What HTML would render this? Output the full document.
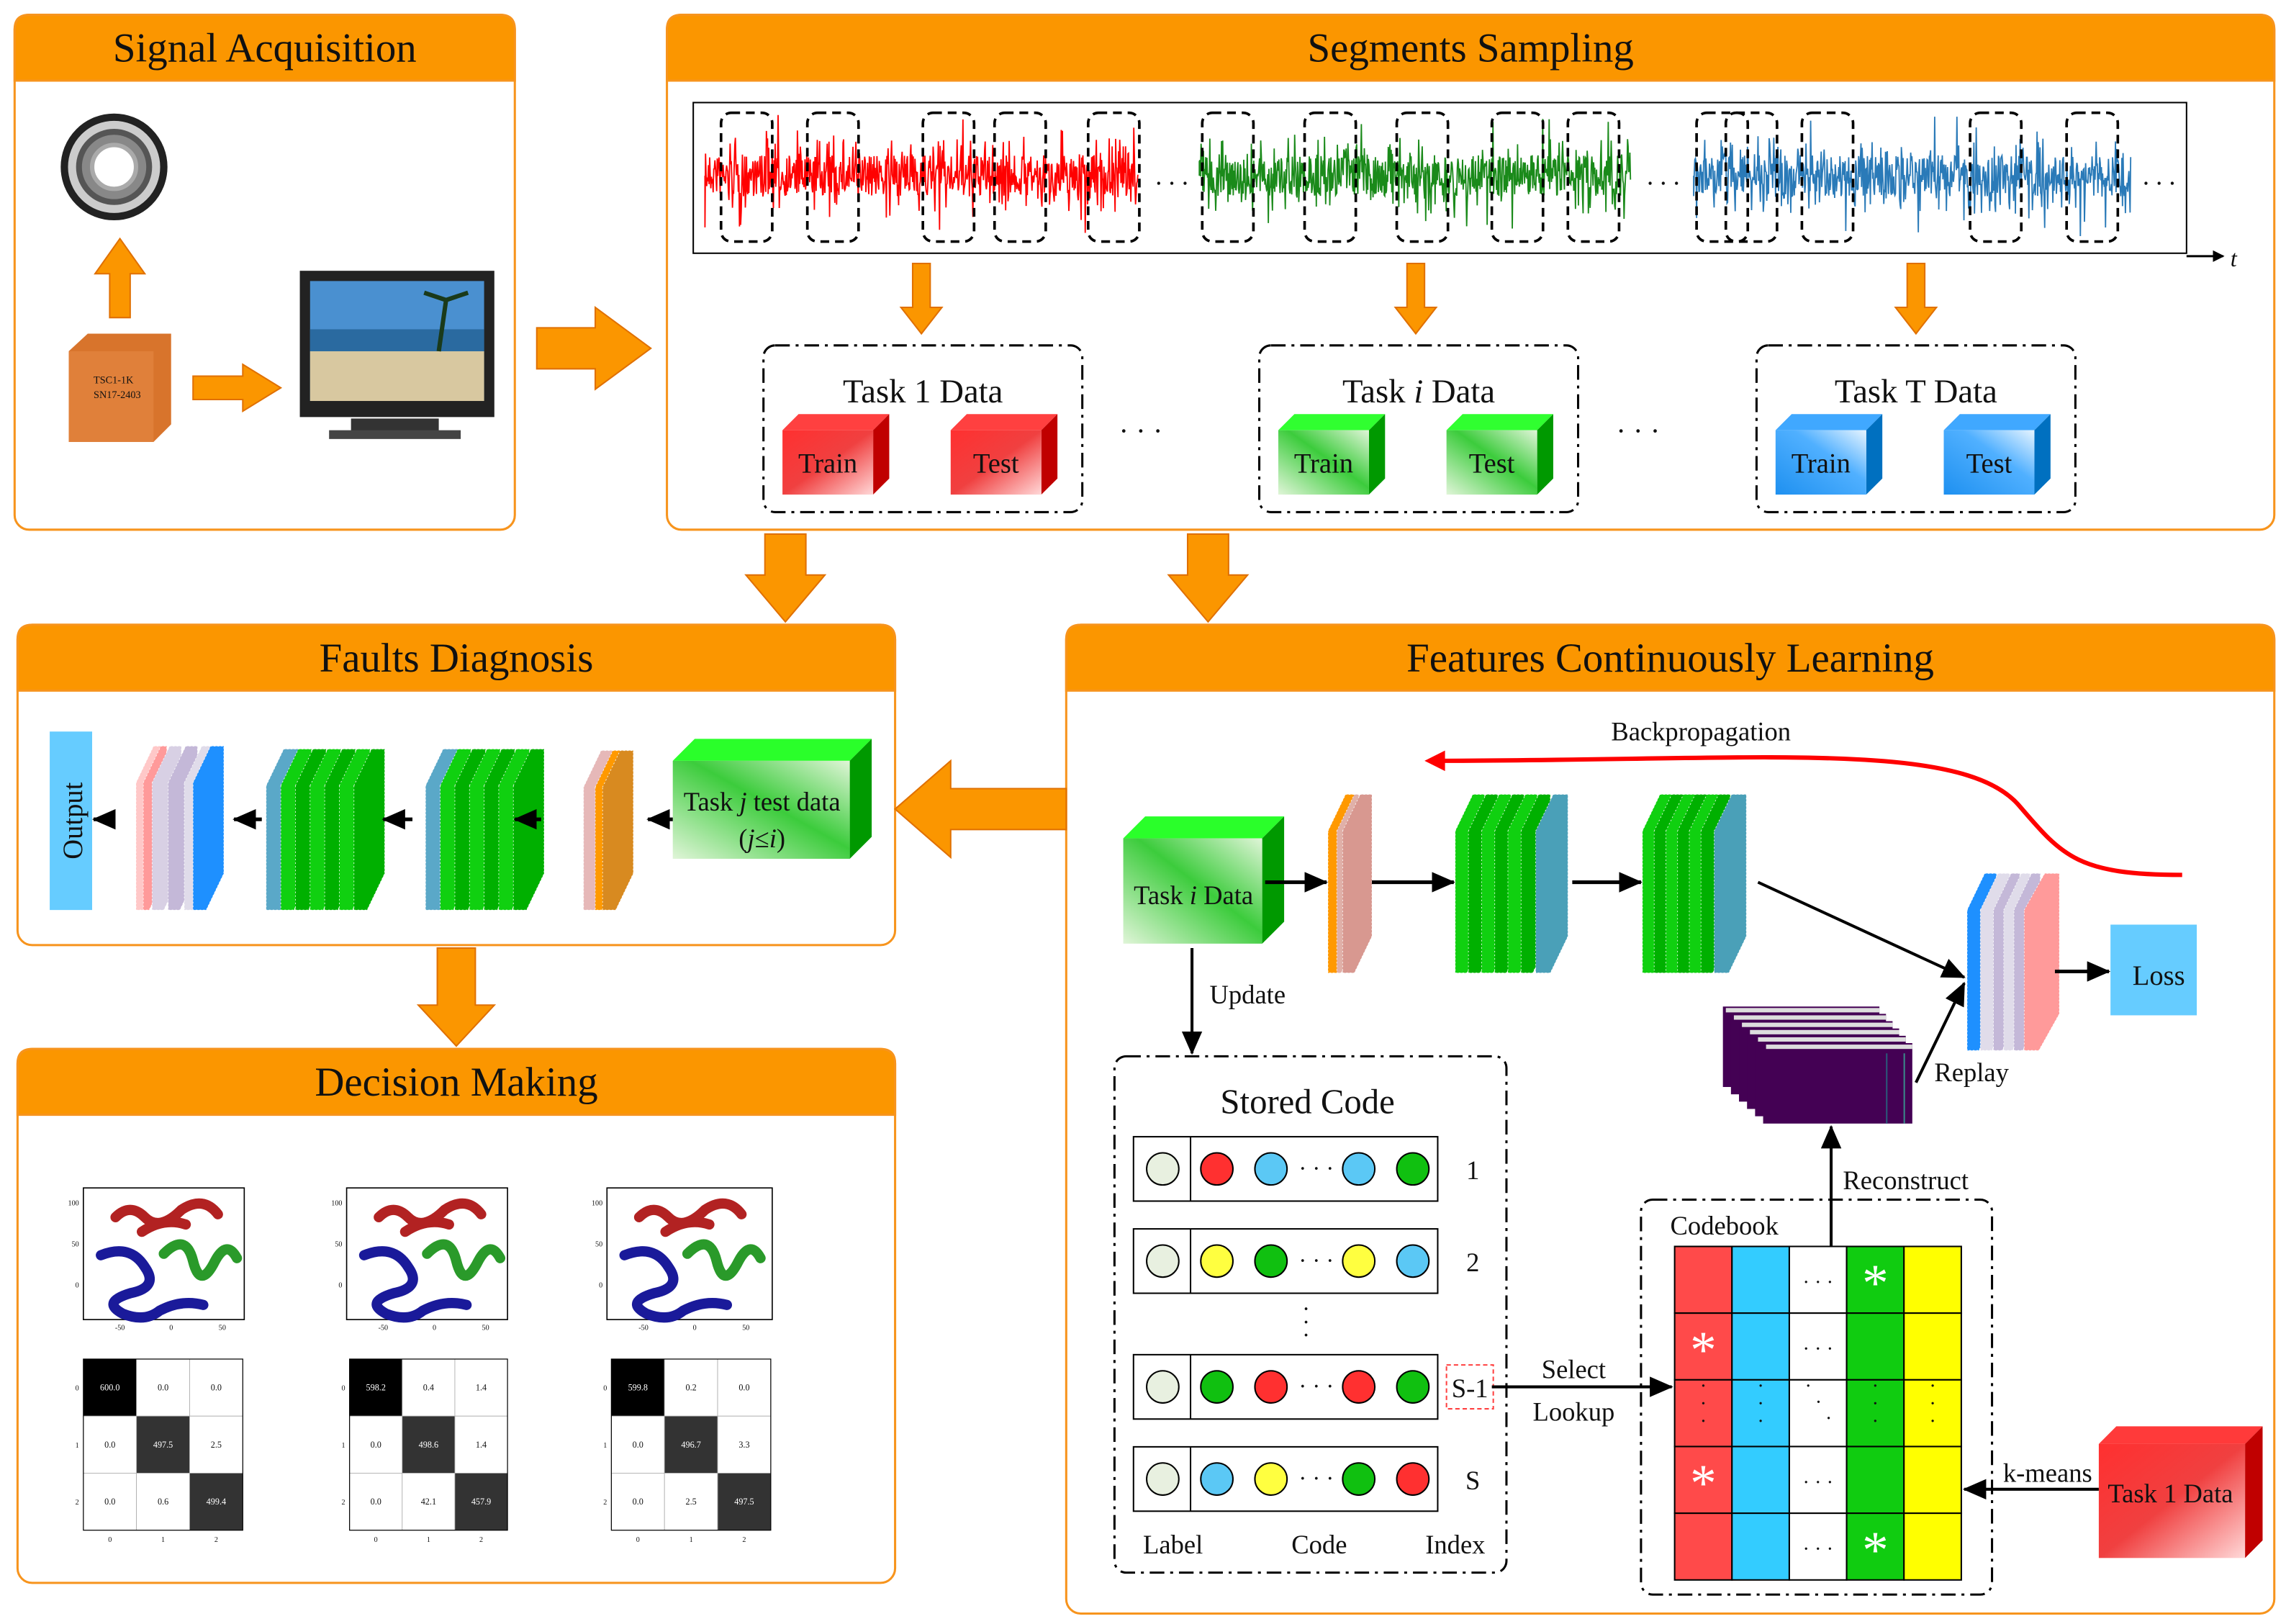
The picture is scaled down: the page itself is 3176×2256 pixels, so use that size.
<!DOCTYPE html>
<html><head><meta charset="utf-8"><style>
html,body{margin:0;padding:0;background:#fff}
svg{display:block}
text{font-family:"Liberation Serif",serif;fill:#111}
</style></head><body>
<svg id="s" width="3176" height="2256" viewBox="0 0 1563 1110" xmlns="http://www.w3.org/2000/svg">
<defs>
<linearGradient id="gr" x1="0" y1="0" x2="1" y2="1"><stop offset="0" stop-color="#ff3030"/><stop offset="0.5" stop-color="#f04040"/><stop offset="1" stop-color="#ffd8d8"/></linearGradient>
<linearGradient id="gg" x1="1" y1="0" x2="0" y2="1"><stop offset="0" stop-color="#e0f5d8"/><stop offset="0.45" stop-color="#3ccc3c"/><stop offset="1" stop-color="#e0f5d8"/></linearGradient>
<linearGradient id="gb" x1="0" y1="1" x2="1" y2="0"><stop offset="0" stop-color="#1e90f0"/><stop offset="0.6" stop-color="#50b0ff"/><stop offset="1" stop-color="#e6f4ff"/></linearGradient>
<marker id="ah" markerWidth="8" markerHeight="8" refX="7" refY="4" orient="auto" markerUnits="userSpaceOnUse"><path d="M0,0 L8,4 L0,8 Z" fill="#000"/></marker>
<marker id="ahb" markerWidth="16" markerHeight="14" refX="15" refY="7" orient="auto" markerUnits="userSpaceOnUse"><path d="M0,0 L16,7 L0,14 Z" fill="#000"/></marker>
</defs>
<g id="root"></g>
</svg>
<script>
const R=document.getElementById('root');let H='';
function a(s){H+=s;}
const OR='#f7941d',OF='#fb9600';
function panel(x,y,w,h,t){a(`<rect x="${x}" y="${y}" width="${w}" height="${h}" rx="10" fill="#fff" stroke="${OR}" stroke-width="1.5"/>`);
a(`<path d="M${x} ${y+45} V${y+10} Q${x} ${y} ${x+10} ${y} H${x+w-10} Q${x+w} ${y} ${x+w} ${y+10} V${y+45} Z" fill="${OF}" stroke="${OR}" stroke-width="1.5"/>`);
a(`<text x="${x+w/2}" y="${y+32}" font-size="28" text-anchor="middle">${t}</text>`);}
panel(10,10,342,352,'Signal Acquisition');
panel(456,10,1099,352,'Segments Sampling');
panel(12,427,600,219,'Faults Diagnosis');
panel(729,427,826,676,'Features Continuously Learning');
panel(12,717,600,365,'Decision Making');
function barR(x1,x2,cy,sh,hh,hl){a(`<polygon points="${x1},${cy-sh} ${x2-hl},${cy-sh} ${x2-hl},${cy-hh} ${x2},${cy} ${x2-hl},${cy+hh} ${x2-hl},${cy+sh} ${x1},${cy+sh}" fill="${OF}" stroke="#e07000" stroke-width="1"/>`);}
function barL(x1,x2,cy,sh,hh,hl){a(`<polygon points="${x2},${cy-sh} ${x1+hl},${cy-sh} ${x1+hl},${cy-hh} ${x1},${cy} ${x1+hl},${cy+hh} ${x1+hl},${cy+sh} ${x2},${cy+sh}" fill="${OF}" stroke="#e07000" stroke-width="1"/>`);}
function barD(cx,y1,y2,sw,hw,hl){a(`<polygon points="${cx-sw},${y1} ${cx+sw},${y1} ${cx+sw},${y2-hl} ${cx+hw},${y2-hl} ${cx},${y2} ${cx-hw},${y2-hl} ${cx-sw},${y2-hl}" fill="${OF}" stroke="#e07000" stroke-width="1"/>`);}
function barU(cx,y1,y2,sw,hw,hl){a(`<polygon points="${cx-sw},${y2} ${cx+sw},${y2} ${cx+sw},${y1+hl} ${cx+hw},${y1+hl} ${cx},${y1} ${cx-hw},${y1+hl} ${cx-sw},${y1+hl}" fill="${OF}" stroke="#e07000" stroke-width="1"/>`);}
barR(367,445,238,14,28,38);
barD(537,365,425,14,27,32);barD(826,365,425,14,27,32);
barL(612,729,553,14,33,38);
barD(312,648,715,13,26,28);
barU(82,163,217,7,17,24);
barR(132,192,265,8,16,26);
barD(630,180,228,6,14,18);barD(968,180,228,6,14,18);barD(1310,180,228,6,14,18);
a(`<circle cx="78" cy="114" r="34" fill="#ccc" stroke="#222" stroke-width="5"/><circle cx="78" cy="114" r="24" fill="#888" stroke="#555" stroke-width="4"/><circle cx="78" cy="114" r="15" fill="#fff" stroke="#aaa" stroke-width="3"/>`);
a(`<polygon points="47,240 60,228 117,228 117,290 105,302 47,302" fill="#d8742c"/><rect x="47" y="240" width="58" height="62" fill="#e0803a"/><text x="64" y="262" font-size="7" fill="#333">TSC1-1K</text><text x="64" y="272" font-size="7" fill="#333">SN17-2403</text>`);
a(`<rect x="205" y="185" width="133" height="100" fill="#222"/><rect x="212" y="192" width="119" height="82" fill="#4a90d0"/><rect x="212" y="240" width="119" height="34" fill="#d8c8a0"/><rect x="212" y="225" width="119" height="15" fill="#2a6aa0"/><path d="M300 240 L305 205 M305 205 L290 200 M305 205 L320 200" stroke="#1a3a1a" stroke-width="3" fill="none"/><rect x="240" y="286" width="60" height="10" fill="#333"/><rect x="225" y="294" width="90" height="6" fill="#444"/>`);
a(`<rect x="474" y="70" width="1021" height="103" fill="none" stroke="#000" stroke-width="1"/><line x1="1495" y1="175" x2="1520" y2="175" stroke="#000" stroke-width="1.5" marker-end="url(#ah)"/><text x="1525" y="182" font-size="16" font-style="italic">t</text>`);
let seed=7;function rnd(){seed=(seed*16807)%2147483647;return seed/2147483647;}
function wave(x1,x2,col){let d=`M${x1} 120`;for(let x=x1;x<=x2;x+=0.4){let r=rnd();let amp=(r<0.05?42:(r<0.3?26:14));d+=` L${x.toFixed(1)} ${(120+(rnd()*2-1)*amp).toFixed(1)}`;}a(`<path d="${d}" stroke="${col}" stroke-width="0.9" fill="none"/>`);}
wave(482,778,'#ff0000');wave(820,1115,'#1a8a1a');wave(1158,1457,'#2a7ab8');
a(`<text x="790" y="126" font-size="18">. . .</text><text x="1126" y="126" font-size="18">. . .</text><text x="1465" y="126" font-size="18">. . .</text>`);
[493,552,631,680,744,822,892,955,1020,1072,1160,1180,1232,1347,1413].forEach(x=>a(`<rect x="${x}" y="77" width="35" height="88" rx="7" fill="none" stroke="#000" stroke-width="1.8" stroke-dasharray="6,4"/>`));
function cube(x,y,w,h,d,fill,side,top,label,fs){a(`<polygon points="${x},${y+d} ${x+d},${y} ${x+w+d},${y} ${x+w},${y+d}" fill="${top}"/><polygon points="${x+w},${y+d} ${x+w+d},${y} ${x+w+d},${y+h} ${x+w},${y+h+d}" fill="${side}"/><rect x="${x}" y="${y+d}" width="${w}" height="${h}" fill="${fill}"/>`);if(label)a(`<text x="${x+w/2}" y="${y+d+h/2+7}" font-size="${fs||19}" text-anchor="middle">${label}</text>`);}
function tbox(x,t,f,s,tp){a(`<rect x="${x}" y="236" width="218" height="114" rx="8" fill="none" stroke="#000" stroke-width="1.5" stroke-dasharray="10,4,2,4"/><text x="${x+109}" y="275" font-size="23" text-anchor="middle">${t}</text>`);cube(x+13,283,62,44,11,f,s,tp,'Train',19);cube(x+128,283,62,44,11,f,s,tp,'Test',19);}
tbox(522,'Task 1 Data','url(#gr)','#c00000','#ff4040');
tbox(861,'Task <tspan font-style="italic">i</tspan> Data','url(#gg)','#009900','#30ff30');
tbox(1201,'Task T Data','url(#gb)','#0070c0','#40a8ff');
a(`<text x="765" y="301" font-size="20">·   ·   ·</text><text x="1105" y="301" font-size="20">·   ·   ·</text>`);
function sheet(x,t,b,c,w,k,s){w=w||7;k=k||11;s=s||25;a(`<polygon points="${x},${t+s} ${x+k},${t} ${x+k+w},${t} ${x+k+w},${b-s} ${x+w},${b} ${x},${b}" fill="${c}" stroke="#fff" stroke-width="0.4" stroke-dasharray="1,1.5"/>`);}
a(`<rect x="34" y="500" width="29" height="122" fill="#66ccff"/><text transform="translate(56,561) rotate(-90)" font-size="19" text-anchor="middle">Output</text>`);
sheet(93,510,622,'#ffc8c8',8,12);sheet(98,510,622,'#ff9a9a',4,12);sheet(104,510,622,'#d8d0e4',8,12);sheet(115,510,622,'#c4b8d8',8,12);sheet(126,510,622,'#e0dcea',6,12);sheet(132,510,622,'#1e90ff',9,12,25);
sheet(182,512,622,'#5aa8c8',10,12);for(let i=0;i<6;i++)sheet(192+i*10,512,622,i%2?'#00b000':'#10d010',9,12);
sheet(291,512,622,'#5aa8c8',10,12);for(let i=0;i<6;i++)sheet(301+i*10,512,622,i%2?'#00b000':'#10d010',9,12);
sheet(399,513,622,'#e6b8b8',8,12);sheet(407,513,622,'#ff9900',5,12);sheet(412,513,622,'#d88a20',9,12);
cube(460,505,121,67,15,'url(#gg)','#009900','#2aff2a','',0);
a(`<text x="521" y="554" font-size="18" text-anchor="middle">Task <tspan font-style="italic">j</tspan> test data</text><text x="521" y="579" font-size="18" text-anchor="middle">(<tspan font-style="italic">j</tspan>≤<tspan font-style="italic">i</tspan>)</text>`);
[[460,443],[370,352],[282,262],[179,160],[77,64]].forEach(([x1,x2])=>a(`<line x1="${x1}" y1="560" x2="${x2}" y2="560" stroke="#000" stroke-width="2.5" marker-end="url(#ahb)"/>`));
a(`<text x="1163" y="506" font-size="18" text-anchor="middle">Backpropagation</text><path d="M1492 598 C1420 598 1410 585 1380 550 C1340 505 1200 520 980 520" stroke="#ff0000" stroke-width="3" fill="none"/><polygon points="974,520 988,513 988,527" fill="#ff0000"/>`);
cube(768,558,95,72,15,'url(#gg)','#009900','#2aff2a','',0);
a(`<text x="816" y="618" font-size="18" text-anchor="middle">Task <tspan font-style="italic">i</tspan> Data</text>`);
sheet(908,543,665,'#ff9900',6,12);sheet(914,543,665,'#e0b0a8',3,12);sheet(918,543,665,'#d89890',8,12);
for(let i=0;i<6;i++)sheet(995+i*9,543,665,i%2?'#00b000':'#10d010',8,12);sheet(1050,543,665,'#4aa0b8',10,12);
for(let i=0;i<6;i++)sheet(1123+i*8,543,665,i%2?'#00b000':'#10d010',8,12);sheet(1172,543,665,'#4aa0b8',10,12);
sheet(1345,597,718,'#1e90ff',8,12);sheet(1354,597,718,'#e0dcea',8,12);sheet(1363,597,718,'#c4b8d8',6,12);sheet(1370,597,718,'#e0dcea',6,12);sheet(1377,597,718,'#c4b8d8',6,12);sheet(1384,597,718,'#ff9a9a',10,14);
a(`<rect x="1443" y="632" width="59" height="62" fill="#66ccff"/><text x="1476" y="673" font-size="19" text-anchor="middle">Loss</text>`);
function arr(x1,y1,x2,y2,w){a(`<line x1="${x1}" y1="${y1}" x2="${x2}" y2="${y2}" stroke="#000" stroke-width="${w||2}" marker-end="url(#ahb)"/>`);}
arr(865,603,907,603,2.5);arr(938,603,994,603,2.5);arr(1075,603,1122,603,2.5);arr(1202,603,1343,668,2);arr(1405,664,1442,664,2.5);arr(1310,740,1343,672,2);
arr(815,648,815,720,2);a(`<text x="853" y="686" font-size="18" text-anchor="middle">Update</text>`);
for(let i=0;i<6;i++){let x=1178+i*5.5,y=688+i*5;a(`<rect x="${x}" y="${y}" width="${107-i*1}" height="${55}" fill="#440154"/><rect x="${x+2}" y="${y+1}" width="${105-i}" height="3" fill="#ddd"/>`);}
a(`<line x1="1302" y1="720" x2="1302" y2="768" stroke="#3a8a8a" stroke-width="1"/><line x1="1290" y1="720" x2="1290" y2="768" stroke="#2a5a7a" stroke-width="1"/><text x="1348" y="739" font-size="18" text-anchor="middle">Replay</text>`);
a(`<rect x="762" y="722" width="268" height="353" rx="8" fill="none" stroke="#000" stroke-width="1.5" stroke-dasharray="10,4,2,4"/><text x="894" y="761" font-size="24" text-anchor="middle">Stored Code</text>`);
const C={l:'#e8f0e0',r:'#ff3030',c:'#5bc8f5',g:'#10c010',y:'#ffff40'};
[[777,'lrccg','1'],[840,'lygyc','2'],[926,'lgrrg','S-1'],[989,'lcygr','S']].forEach(([y,s,lab])=>{a(`<rect x="775" y="${y}" width="208" height="44" fill="#fff" stroke="#000" stroke-width="1"/><line x1="814" y1="${y}" x2="814" y2="${y+44}" stroke="#000"/>`);[795,832,869,929,966].forEach((cx,i)=>a(`<circle cx="${cx}" cy="${y+22}" r="11" fill="${C[s[i]]}" stroke="#000" stroke-width="1"/>`));a(`<text x="900" y="${y+27}" font-size="16" text-anchor="middle">· · ·</text>`);
if(lab==='S-1')a(`<rect x="989" y="${y+7}" width="32" height="30" fill="none" stroke="#ff4040" stroke-dasharray="3,2"/>`);a(`<text x="${lab==='S-1'?1005:1007}" y="${y+29}" font-size="18" text-anchor="middle">${lab}</text>`);});
a(`<text x="893" y="900" font-size="16" text-anchor="middle">·</text><text x="893" y="909" font-size="16" text-anchor="middle">·</text><text x="893" y="918" font-size="16" text-anchor="middle">·</text>`);
a(`<text x="802" y="1062" font-size="18" text-anchor="middle">Label</text><text x="902" y="1062" font-size="18" text-anchor="middle">Code</text><text x="995" y="1062" font-size="18" text-anchor="middle">Index</text>`);
arr(1020,948,1143,948,2);a(`<text x="1076" y="942" font-size="18" text-anchor="middle">Select</text><text x="1076" y="971" font-size="18" text-anchor="middle">Lookup</text>`);
a(`<rect x="1122" y="820" width="240" height="270" rx="8" fill="none" stroke="#000" stroke-width="1.5" stroke-dasharray="10,4,2,4"/><text x="1179" y="844" font-size="18" text-anchor="middle">Codebook</text>`);
const cols=['#ff4a4a','#33ccff','#ffffff','#10cc10','#ffff00'];
for(let c=0;c<5;c++)for(let r=0;r<5;r++)a(`<rect x="${1145+c*39.2}" y="${852+r*45.6}" width="39.2" height="45.6" fill="${cols[c]}" stroke="#000" stroke-width="1"/>`);
[[3,0],[0,1],[0,3],[3,4]].forEach(([c,r])=>a(`<text x="${1145+c*39.2+19.6}" y="${852+r*45.6+37}" font-size="36" text-anchor="middle" style="fill:#fff">*</text>`));
[0,1,3,4].forEach(r=>a(`<text x="1243" y="${852+r*45.6+29}" font-size="14" text-anchor="middle">· · ·</text>`));
[0,1,3,4].forEach(c=>{let x=1145+c*39.2+19.6;a(`<text x="${x}" y="952" font-size="14" text-anchor="middle">·</text><text x="${x}" y="964" font-size="14" text-anchor="middle">·</text><text x="${x}" y="976" font-size="14" text-anchor="middle">·</text>`);});
a(`<text x="1234" y="952" font-size="14">·</text><text x="1241" y="963" font-size="14">·</text><text x="1248" y="974" font-size="14">·</text>`);
a(`<line x1="1252" y1="852" x2="1252" y2="770" stroke="#000" stroke-width="2" marker-end="url(#ahb)"/><text x="1303" y="813" font-size="18" text-anchor="middle">Reconstruct</text>`);
cube(1435,975,100,78,12,'url(#gr)','#c00000','#ff3a3a','',0);a(`<text x="1484" y="1027" font-size="18" text-anchor="middle">Task 1 Data</text>`);
arr(1435,1018,1343,1018,2);a(`<text x="1400" y="1013" font-size="18" text-anchor="middle">k-means</text>`);
function scat(x,y,w,h){a(`<rect x="${x}" y="${y}" width="${w}" height="${h}" fill="#fff" stroke="#000" stroke-width="0.8"/>`);
a(`<path d="M${x+22} ${y+20} q10 -10 20 0 q10 10 25 -5 q15 -10 25 3 M${x+40} ${y+30} q15 -10 30 -5" stroke="#b22222" stroke-width="7" fill="none" stroke-linecap="round"/>`);
a(`<path d="M${x+12} ${y+46} q20 -8 30 8 q10 14 -10 18 q-20 6 -5 14 q15 6 25 -2 q15 -8 30 -4" stroke="#1a1a9a" stroke-width="7" fill="none" stroke-linecap="round"/>`);
a(`<path d="M${x+55} ${y+45} q15 -15 20 5 q5 20 15 0 q8 -15 15 -2" stroke="#2a9a2a" stroke-width="7" fill="none" stroke-linecap="round"/>`);
for(let i=0;i<3;i++){a(`<text x="${x-3}" y="${y+12+i*28}" font-size="5" text-anchor="end">${['100','50','0'][i]}</text>`);}
[-50,0,50].forEach((t,i)=>a(`<text x="${x+25+i*35}" y="${y+h+7}" font-size="5" text-anchor="middle">${t}</text>`));}
scat(57,812,110,90);scat(237,812,110,90);scat(415,812,113,90);
function cm(x,y,w,h,vals){const cw=w/3,ch=h/3;for(let r=0;r<3;r++)for(let c=0;c<3;c++){const d=r==c;a(`<rect x="${x+c*cw}" y="${y+r*ch}" width="${cw}" height="${ch}" fill="${d?(r==0?'#000':'#333'):'#fff'}" stroke="#aaa" stroke-width="0.4"/><text x="${x+c*cw+cw/2}" y="${y+r*ch+ch/2+2}" font-size="6" text-anchor="middle" style="fill:${d?'#fff':'#111'}">${vals[r*3+c]}</text>`);}
a(`<rect x="${x}" y="${y}" width="${w}" height="${h}" fill="none" stroke="#000" stroke-width="0.6"/>`);
for(let i=0;i<3;i++){a(`<text x="${x-3}" y="${y+i*ch+ch/2+2}" font-size="5" text-anchor="end">${i}</text><text x="${x+i*cw+cw/2}" y="${y+h+8}" font-size="5" text-anchor="middle">${i}</text>`);}}
cm(57,929,109,117,['600.0','0.0','0.0','0.0','497.5','2.5','0.0','0.6','499.4']);
cm(239,929,108,117,['598.2','0.4','1.4','0.0','498.6','1.4','0.0','42.1','457.9']);
cm(418,929,109,117,['599.8','0.2','0.0','0.0','496.7','3.3','0.0','2.5','497.5']);
R.innerHTML=H;
</script>
</body></html>
